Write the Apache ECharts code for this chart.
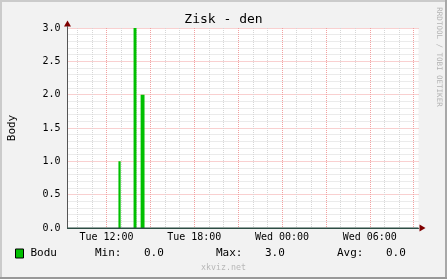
<!DOCTYPE html>
<html><head><meta charset="utf-8">
<script src="https://cdn.jsdelivr.net/npm/echarts@6/dist/echarts.min.js"></script>
<style>html,body{margin:0;padding:0;background:#f2f2f2}#c{width:447px;height:279px}</style>
</head><body><div id="c"></div>
<script>
const titleText = 'Zisk - den';
const yAxisName = 'Body';
const seriesName = 'Bodu';
const rangeStart = 'Tue 09:20';
const rangeEnd = 'Wed 09:20';
const changeTimes = ['Tue 09:20','Tue 12:49','Tue 12:58','Tue 13:51','Tue 14:03','Tue 14:20','Tue 14:36','Wed 09:20'];
const changeValues = [0, 1, 0, 3, 0, 2, 0, 0];
const xLabelTimes = ['Tue 12:00','Tue 18:00','Wed 00:00','Wed 06:00'];
const gridTimes = ['Tue 10:00','Tue 11:00','Tue 12:00','Tue 13:00','Tue 14:00','Tue 15:00','Tue 16:00','Tue 17:00','Tue 18:00','Tue 19:00','Tue 20:00','Tue 21:00','Tue 22:00','Tue 23:00','Wed 00:00','Wed 01:00','Wed 02:00','Wed 03:00','Wed 04:00','Wed 05:00','Wed 06:00','Wed 07:00','Wed 08:00','Wed 09:00'];
const majorGridTimes = ['Tue 12:00','Tue 15:00','Tue 18:00','Tue 21:00','Wed 00:00','Wed 03:00','Wed 06:00','Wed 09:00'];
const yMin = 0, yMax = 3, yStep = 0.5;
const statLabels = ['Min:', 'Max:', 'Avg:'];
const statValues = ['0.0', '3.0', '0.0'];
const sideText = 'RRDTOOL / TOBI OETIKER';
const watermark = 'xkviz.net';

const MONO = 'DejaVu Sans Mono';
const MAJOR = '#f2a0a0', MINOR = '#d6d6d6';
const dayOffset = {Tue: 0, Wed: 24};
function toH(s) {
  const [d, hm] = s.split(' ');
  const [h, m] = hm.split(':').map(Number);
  return dayOffset[d] + h + m / 60;
}
const gridColors = gridTimes.map(t => majorGridTimes.includes(t) ? MAJOR : MINOR);

const chart = echarts.init(document.getElementById('c'), null, {renderer: 'canvas'});
const option = {
  animation: false,
  backgroundColor: '#f2f2f2',
  title: {
    text: titleText, left: 'center', top: 13, padding: 0,
    textStyle: {fontFamily: MONO, fontSize: 13, fontWeight: 'normal', color: '#000'}
  },
  grid: {left: 67.5, top: 28, right: 28.5, bottom: 51, containLabel: false, outerBoundsMode: 'none',
    show: true, backgroundColor: '#fff', borderWidth: 0},
  legend: {
    data: [seriesName], left: 15, top: 248, icon: 'rect', itemWidth: 8, itemHeight: 9,
    itemGap: 0, padding: 0,
    itemStyle: {borderColor: '#000', borderWidth: 1},
    textStyle: {fontFamily: MONO, fontSize: 11, color: '#000', padding: [0, 0, 0, 2]}
  },
  xAxis: {
    type: 'value', min: toH(rangeStart), max: toH(rangeEnd),
    axisLine: {show: true, lineStyle: {color: '#2c4d43', width: 1}},
    axisTick: {show: false, customValues: gridTimes.map(toH)},
    splitLine: {show: true, showMinLine: true, showMaxLine: true, lineStyle: {color: gridColors, type: [1, 1], width: 1}},
    axisLabel: {
      customValues: xLabelTimes.map(toH), margin: 4,
      fontFamily: MONO, fontSize: 10, color: '#000',
      formatter: v => { const t = xLabelTimes.find(s => Math.abs(toH(s) - v) < 1e-6); return t || ''; }
    }
  },
  yAxis: {
    type: 'value', min: yMin, max: yMax, interval: yStep,
    name: yAxisName, nameLocation: 'middle', nameGap: 50, nameRotate: 90,
    nameTextStyle: {fontFamily: MONO, fontSize: 11, color: '#000'},
    axisLine: {show: true, lineStyle: {color: '#555', width: 1}},
    axisTick: {show: false},
    axisLabel: {margin: 7, fontFamily: MONO, fontSize: 10, color: '#000', formatter: v => v.toFixed(1)},
    splitLine: {show: true, lineStyle: {color: MAJOR, type: [1, 1], width: 1}},
    minorTick: {show: false, splitNumber: 5},
    minorSplitLine: {show: true, lineStyle: {color: MINOR, type: [1, 1], width: 1}}
  },
  series: [
    {
      type: 'line', name: seriesName, step: 'end', symbol: 'none', z: 3, silent: true,
      data: changeTimes.map((t, i) => [toH(t), changeValues[i]]),
      lineStyle: {width: 0, color: '#00c000'},
      itemStyle: {color: '#00c000'},
      areaStyle: {color: '#00c000', opacity: 1}
    },
    {
      type: 'line', name: 'baseline', symbol: 'none', z: 4, silent: true,
      data: [[toH(rangeStart), yMin], [toH(rangeEnd), yMin]],
      lineStyle: {width: 1, color: '#2c4d43'}
    }
  ]
};
chart.setOption(option);

const pr = chart.convertToPixel({gridIndex: 0}, [toH(rangeEnd), yMin]);
const pt = chart.convertToPixel({gridIndex: 0}, [toH(rangeStart), yMax]);
const xr = pr[0], yb = pr[1], xl = pt[0], yt = pt[1];
const statX = [95, 216, 337];
const valX = [144, 265, 386];
const graphics = [
  {type: 'rect', shape: {x: 0, y: 0, width: 447, height: 2}, style: {fill: '#cbcbcb'}, z: 100},
  {type: 'rect', shape: {x: 0, y: 0, width: 2, height: 279}, style: {fill: '#cbcbcb'}, z: 100},
  {type: 'rect', shape: {x: 445, y: 0, width: 2, height: 279}, style: {fill: '#a8a8a8'}, z: 100},
  {type: 'rect', shape: {x: 0, y: 277, width: 447, height: 2}, style: {fill: '#999'}, z: 100},
  {type: 'polygon', shape: {points: [[xr + 1, yb - 3.5], [xr + 7, yb], [xr + 1, yb + 3.5]]}, style: {fill: '#7f0000'}, z: 50},
  {type: 'polygon', shape: {points: [[xl - 3.5, yt - 1.5], [xl, yt - 7.5], [xl + 3.5, yt - 1.5]]}, style: {fill: '#7f0000'}, z: 50},
  {type: 'line', shape: {x1: xl, y1: yt - 2, x2: xl, y2: yt}, style: {stroke: '#555', lineWidth: 1}, z: 50},
  {type: 'text', x: 439, y: 57, rotation: -Math.PI / 2,
    style: {text: sideText, font: '7.5px ' + MONO, fill: '#b4b4b4', align: 'center', verticalAlign: 'middle'}, z: 50},
  {type: 'text', x: 223.5, y: 268,
    style: {text: watermark, font: '8.3px ' + MONO, fill: '#b8b8b8', align: 'center', verticalAlign: 'middle'}, z: 50}
];
statLabels.forEach((s, i) => {
  graphics.push({type: 'text', x: statX[i], y: 253, style: {text: s, font: '11px ' + MONO, fill: '#000', align: 'left', verticalAlign: 'middle'}, z: 50});
  graphics.push({type: 'text', x: valX[i], y: 253, style: {text: statValues[i], font: '11px ' + MONO, fill: '#000', align: 'left', verticalAlign: 'middle'}, z: 50});
});
chart.setOption({graphic: graphics});
</script></body></html>
